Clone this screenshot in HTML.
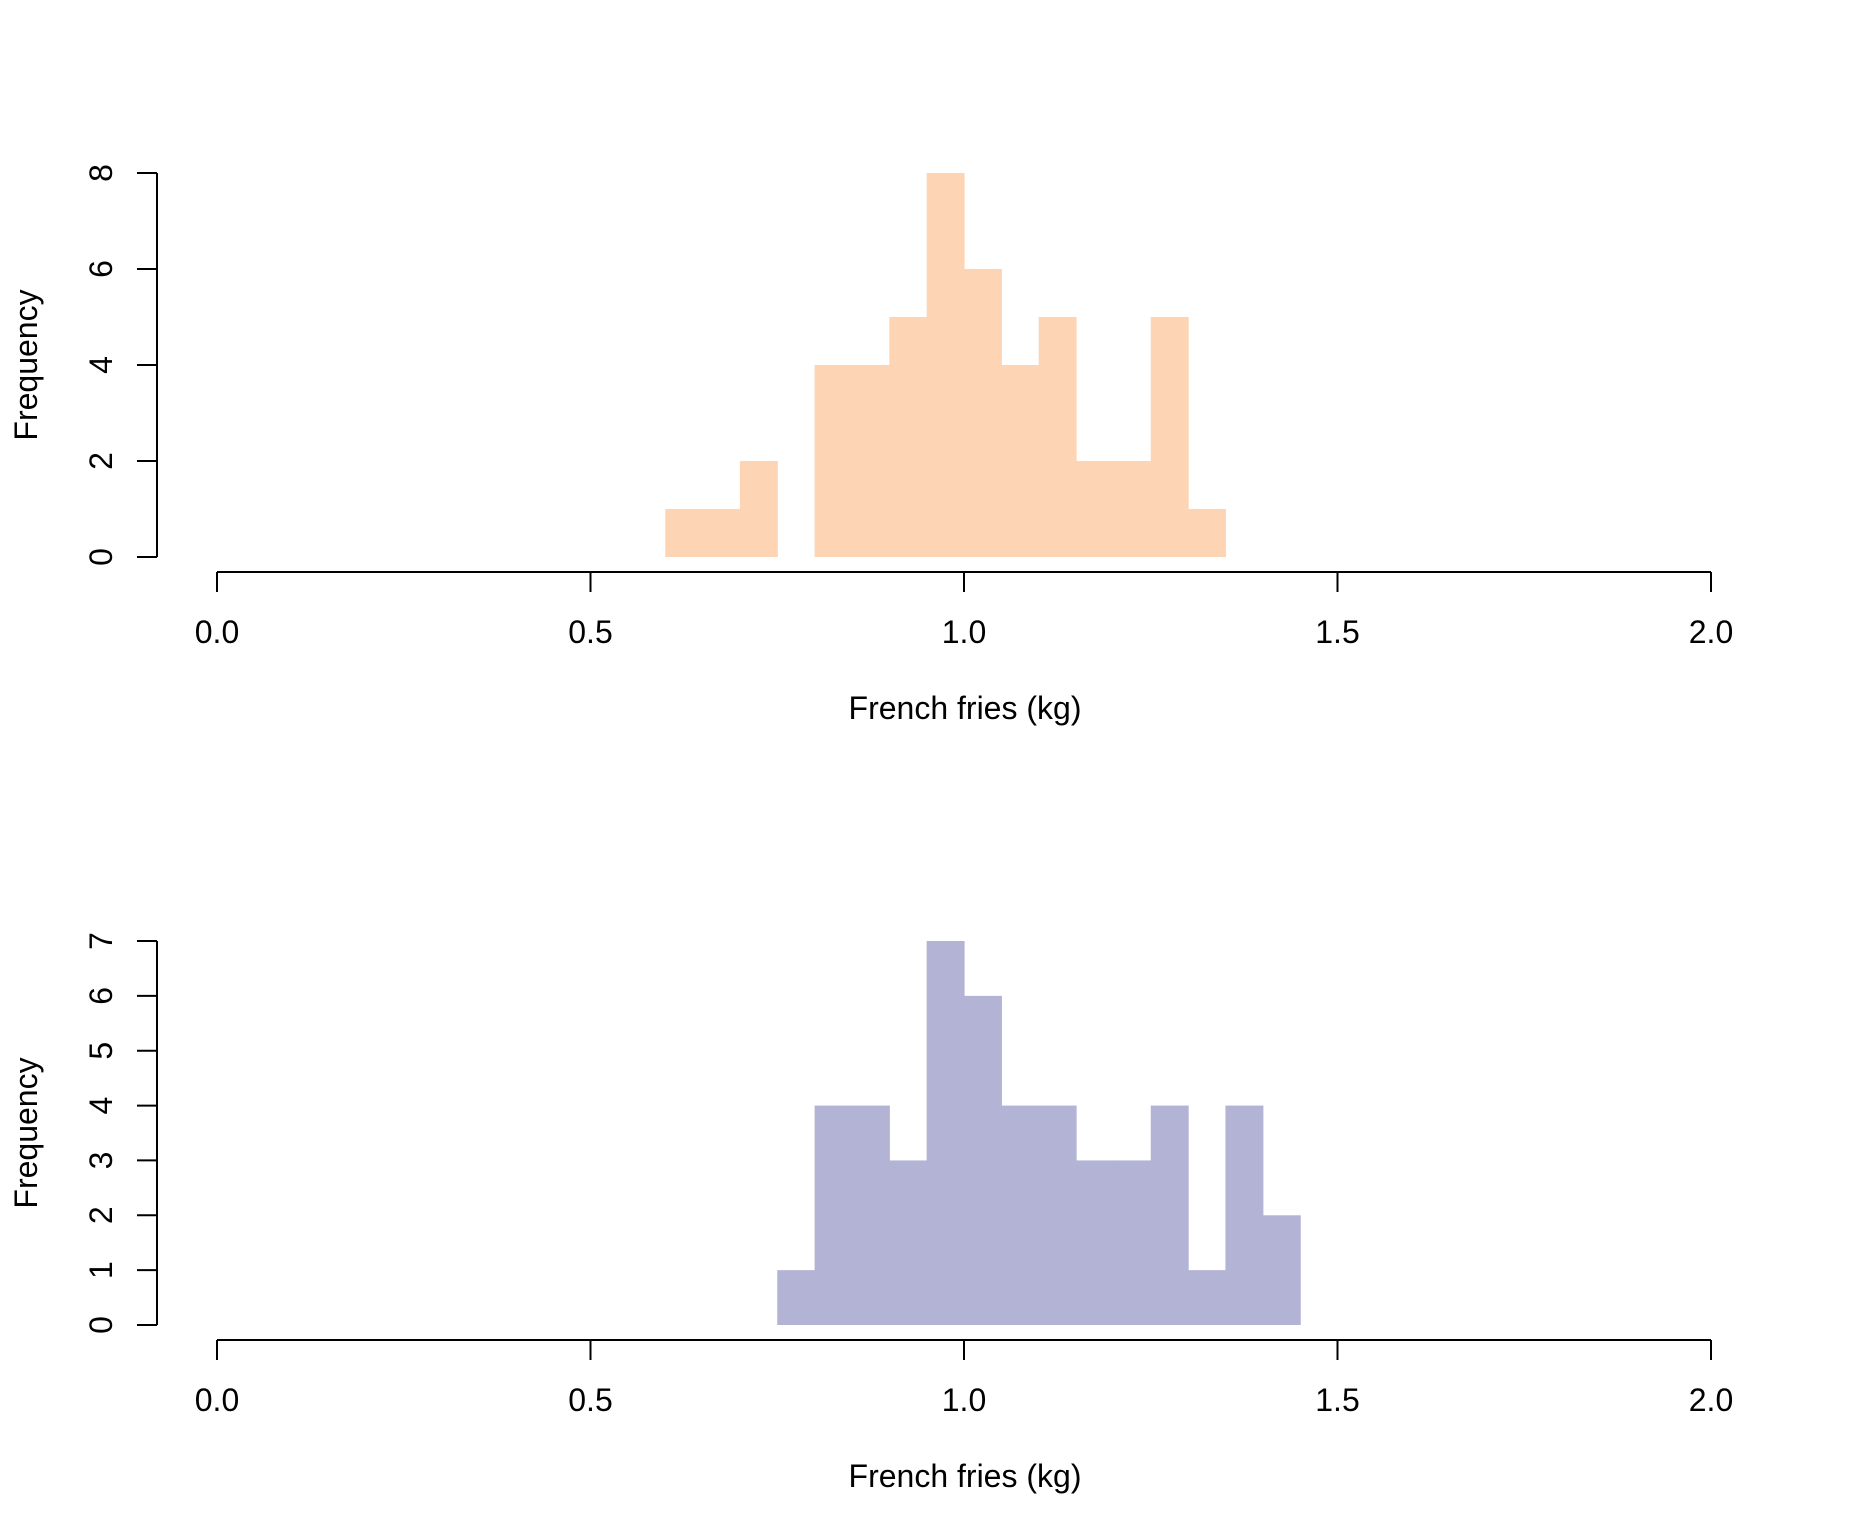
<!DOCTYPE html>
<html><head><meta charset="utf-8"><style>
html,body{margin:0;padding:0;background:#fff;}
svg{display:block;font-family:"Liberation Sans",Arial,sans-serif;}
</style></head><body>
<svg id="chart" width="1850" height="1536" viewBox="0 0 1850 1536" xmlns="http://www.w3.org/2000/svg"></svg>
<script>
const binStart1 = 0.6;
const counts1 = [1, 1, 2, 0, 4, 4, 5, 8, 6, 4, 5, 2, 2, 5, 1];
const binStart2 = 0.75;
const counts2 = [1, 4, 4, 3, 7, 6, 4, 4, 3, 3, 4, 1, 4, 2];
const binWidth = 0.05;
const xTicks = [0, 0.5, 1, 1.5, 2];
const xTickLabels = ["0.0", "0.5", "1.0", "1.5", "2.0"];
const yTicks1 = [0, 2, 4, 6, 8];
const yTicks2 = [0, 1, 2, 3, 4, 5, 6, 7];

const svg = document.getElementById('chart');
const NS = 'http://www.w3.org/2000/svg';
function mk(tag, attrs, parent) {
  const e = document.createElementNS(NS, tag);
  for (const k in attrs) e.setAttribute(k, attrs[k]);
  parent.appendChild(e);
  return e;
}
const xScale = v => 217 + v * 747;
const FS = 32;

function panel(name, counts, start, yTicks, yMax, y0, yTop, axisY, color) {
  const g = mk('g', {}, svg);
  
  
  const yScale = v => y0 - v * (y0 - yTop) / yMax;
  counts.forEach((c, i) => {
    if (c <= 0) return;
    const x1 = xScale(start + i * binWidth), x2 = xScale(start + (i + 1) * binWidth);
    const r = mk('rect', {x: x1, y: yScale(c), width: x2 - x1 + 0.6, height: y0 - yScale(c), fill: color}, g);
    
    
  });
  const ya = mk('g', {}, g);
  
  
  mk('line', {x1: 157, x2: 157, y1: yScale(yTicks[0]), y2: yScale(yTicks[yTicks.length - 1]), stroke: '#000', 'stroke-width': 2}, ya);
  yTicks.forEach(t => {
    const y = yScale(t);
    mk('line', {x1: 137, x2: 157, y1: y, y2: y, stroke: '#000', 'stroke-width': 2}, ya);
    const tx = mk('text', {x: 0, y: 0, transform: `translate(112,${y}) rotate(-90)`, 'text-anchor': 'middle', 'font-size': FS}, ya);
    tx.textContent = String(t);
    
    
  });
  const yl = mk('text', {x: 0, y: 0, transform: `translate(37,${(y0 + yScale(yTicks[yTicks.length - 1])) / 2}) rotate(-90)`, 'text-anchor': 'middle', 'font-size': FS}, g);
  yl.textContent = 'Frequency';
  
  
  const xa = mk('g', {}, g);
  
  
  mk('line', {x1: xScale(xTicks[0]), x2: xScale(xTicks[xTicks.length - 1]), y1: axisY, y2: axisY, stroke: '#000', 'stroke-width': 2}, xa);
  xTicks.forEach((t, i) => {
    const x = xScale(t);
    mk('line', {x1: x, x2: x, y1: axisY, y2: axisY + 20, stroke: '#000', 'stroke-width': 2}, xa);
    const tx = mk('text', {x: x, y: axisY + 71, 'text-anchor': 'middle', 'font-size': FS}, xa);
    tx.textContent = xTickLabels[i];
    
    
  });
  const xl = mk('text', {x: 965, y: axisY + 147, 'text-anchor': 'middle', 'font-size': FS}, g);
  xl.textContent = 'French fries (kg)';
  
  
}
panel('top-histogram', counts1, binStart1, yTicks1, 8, 557, 173, 572, '#FDD5B4');
panel('bottom-histogram', counts2, binStart2, yTicks2, 7, 1325, 941, 1340, '#B3B3D6');
</script>
</body></html>
